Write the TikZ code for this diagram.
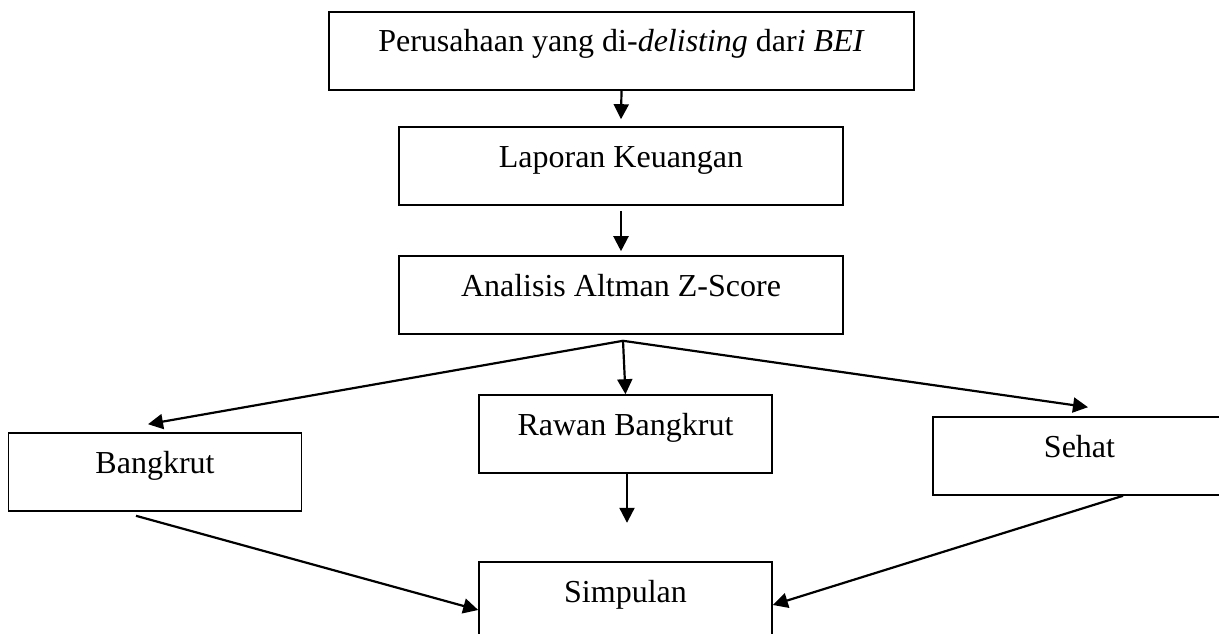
\documentclass[tikz,border=0pt]{standalone}
\usepackage{fontspec}
\setmainfont{Liberation Serif}
\usetikzlibrary{arrows.meta}
\begin{document}
\begin{tikzpicture}[x=1pt,y=-1pt,
  box/.style={draw=black,line width=1.6pt,inner xsep=0pt,inner ysep=0pt,
    text height=40pt,text depth=38pt,align=center,
    font=\fontsize{32}{38}\selectfont},
  conn/.style={line width=2.2pt,-{Triangle[length=15pt,width=15pt]}}]
\useasboundingbox (0,0) rectangle (1219,634);
\clip (0,0) rectangle (1219,634);
\fill[white] (0,0) rectangle (1219,634);

\node[box,minimum width=585pt] (top) at (621.5,51) {Perusahaan yang di-\textit{delisting} dar\textit{i BEI}};
\node[box,minimum width=444pt] (lap) at (621,166) {Laporan Keuangan};
\node[box,minimum width=444pt] (ana) at (621,295) {Analisis Altman Z-Score};
\node[box,minimum width=293pt] (bang) at (155,472) {Bangkrut};
\node[box,minimum width=293pt] (rawan) at (625.5,434) {Rawan Bangkrut};
\node[box,minimum width=293pt] (sehat) at (1079.5,456) {Sehat};
\node[box,minimum width=293pt,text depth=50pt] (simp) at (625.5,607) {Simpulan};

\coordinate (br) at ([xshift=2pt,yshift=-6pt]ana.south);
\coordinate (rb) at ([xshift=1.5pt,yshift=-49pt]rawan.south);

\draw[conn] (top.south) -- ([yshift=7pt]lap.north);
\draw[conn] ([yshift=-5pt]lap.south) -- ([yshift=4pt]ana.north);
\draw[conn] (br) -- ([xshift=-7pt,yshift=8pt]bang.north);
\draw[conn] (br) -- (rawan.north);
\draw[conn] (br) -- ([xshift=8.5pt,yshift=9pt]sehat.north);
\draw[conn] ([xshift=1.5pt]rawan.south) -- (rb);
\draw[conn] ([xshift=-19pt,yshift=-4pt]bang.south) -- ([yshift=-3pt]simp.west);
\draw[conn] ([xshift=43.5pt]sehat.south) -- ([yshift=2pt]simp.east);
\end{tikzpicture}
\end{document}
